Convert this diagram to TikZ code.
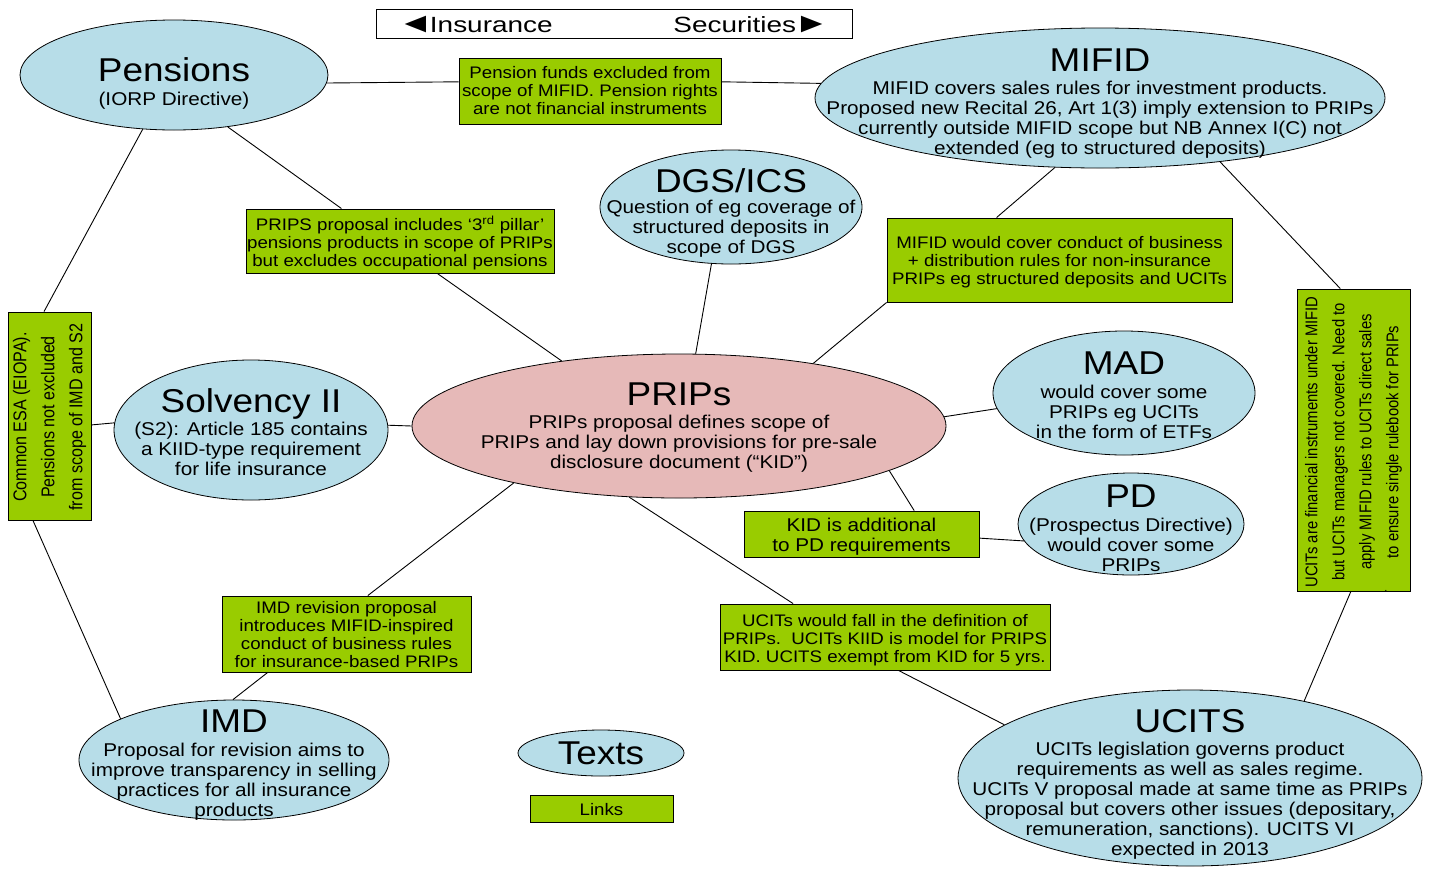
\documentclass[tikz,border=0pt]{standalone}
\usepackage{fontspec}
\setmainfont{Liberation Sans}[FakeStretch=1.12]
\newfontfamily\hdrfont{Liberation Sans}[FakeStretch=1.27]
\newfontfamily\narrowfont{Liberation Sans}[FakeStretch=0.87]
\usetikzlibrary{shapes.geometric}
\definecolor{ellblue}{RGB}{183,221,232}
\definecolor{ellpink}{RGB}{230,185,184}
\definecolor{boxgreen}{RGB}{153,204,0}
\newcommand\ttl[1]{{\fontsize{33}{36}\selectfont #1}}
\newcommand\tri[1]{{\fontsize{28}{24}\selectfont #1}}
\tikzset{
  ell/.style 2 args={ellipse, draw, fill=ellblue, line width=0.8pt, inner sep=0pt, minimum width=#1, minimum height=#2},
  gbox/.style 2 args={rectangle, draw, fill=boxgreen, line width=0.9pt, inner sep=0pt, minimum width=#1, minimum height=#2},
  eltxt/.style={align=center, inner sep=0pt, font=\fontsize{18.5}{20}\selectfont},
  bxtxt/.style={align=center, inner sep=0pt, yshift=-2pt, font=\fontsize{16.7}{18}\selectfont},
  rottxt/.style={align=center, inner sep=0pt, rotate=90},
  hdrtxt/.style={inner sep=0pt, font=\hdrfont\fontsize{22}{24}\selectfont},
  conn/.style={line width=0.9pt},
}
\begin{document}
\begin{tikzpicture}[x=1pt,y=-1pt]
\useasboundingbox (0,0) rectangle (1431,876);

% header
\node[rectangle, draw, fill=white, line width=0.9pt, minimum width=476pt, minimum height=29pt, inner sep=0pt,
  label={[hdrtxt,anchor=west,xshift=22pt,yshift=-1pt]west:\tri{◄}\kern-3pt Insurance},
  label={[hdrtxt,anchor=east,xshift=-23pt,yshift=-1pt]east:Securities\kern-2pt\tri{►}}] (hdr) at (614,23.5) {};

% ellipses
\node[ell={308pt}{110pt}, label={[eltxt,yshift=-8pt]center:{\ttl{Pensions}\\[4pt](IORP Directive)}}] (pens) at (174,75) {};
\node[ell={570pt}{140pt}, label={[eltxt,yshift=-6pt]center:{\ttl{MIFID}\\[3pt]MIFID covers sales rules for investment products.\\Proposed new Recital 26, Art 1(3) imply extension to PRIPs\\currently outside MIFID scope but NB Annex I(C) not\\extended (eg to structured deposits)}}] (mifid) at (1100,98) {};
\node[ell={262pt}{114pt}, label={[eltxt,yshift=-6pt]center:{\ttl{DGS/ICS}\\[1pt]Question of eg coverage of\\structured deposits in\\scope of DGS}}] (dgs) at (731,207) {};
\node[ell={534pt}{144pt}, fill=ellpink, label={[eltxt,yshift=-2pt]center:{\ttl{PRIPs}\\[3pt]PRIPs proposal defines scope of\\PRIPs and lay down provisions for pre-sale\\disclosure document (“KID”)}}] (prips) at (679,426) {};
\node[ell={274pt}{140pt}, label={[eltxt,yshift=-2pt]center:{\ttl{Solvency II}\\[2pt](S2): Article 185 contains\\a KIID-type requirement\\for life insurance}}] (solv) at (251,430) {};
\node[ell={262pt}{124pt}, label={[eltxt,yshift=-2pt]center:{\ttl{MAD}\\[4pt]would cover some\\PRIPs eg UCITs\\in the form of ETFs}}] (mad) at (1124,393) {};
\node[ell={226pt}{102pt}, label={[eltxt,yshift=-4pt]center:{\ttl{PD}\\[4pt](Prospectus Directive)\\would cover some\\PRIPs}}] (pd) at (1131,524) {};
\node[ell={310pt}{120pt}, label={[eltxt,yshift=-5pt]center:{\ttl{IMD}\\[4pt]Proposal for revision aims to\\improve transparency in selling\\practices for all insurance\\products}}] (imd) at (234,760) {};
\node[ell={166pt}{46pt}, label={[eltxt]center:{\ttl{Texts}}}] (texts) at (601,753) {};
\node[ell={464pt}{176pt}, label={[eltxt,yshift=-6pt]center:{\ttl{UCITS}\\[3pt]UCITs legislation governs product\\requirements as well as sales regime.\\UCITs V proposal made at same time as PRIPs\\proposal but covers other issues (depositary,\\remuneration, sanctions). UCITS VI\\expected in 2013}}] (ucits) at (1190,778) {};

% green boxes
\node[gbox={262pt}{66pt}, label={[bxtxt,yshift=2pt]center:{Pension funds excluded from\\scope of MIFID. Pension rights\\are not financial instruments}}] (b1) at (590,91) {};
\node[gbox={308pt}{64pt}, label={[bxtxt]center:{PRIPS proposal includes ‘3\textsuperscript{rd} pillar’\\pensions products in scope of PRIPs\\but excludes occupational pensions}}] (b2) at (400,241) {};
\node[gbox={345pt}{84pt}, label={[bxtxt]center:{MIFID would cover conduct of business\\+ distribution rules for non-insurance\\PRIPs eg structured deposits and UCITs}}] (b3) at (1059.5,260) {};
\node[gbox={83pt}{208pt}, label={[rottxt,xshift=-1pt,font=\narrowfont\fontsize{18.5}{28}\selectfont]center:{Common ESA (EIOPA).\\Pensions not excluded\\from scope of IMD and S2}}] (bl) at (49.5,416) {};
\node[gbox={113pt}{302pt}, label={[rottxt,xshift=-2pt,font=\narrowfont\fontsize{17}{27}\selectfont]center:{UCITs are financial instruments under MIFID\\but UCITs managers not covered. Need to\\apply MIFID rules to UCITs direct sales\\to ensure single rulebook for PRIPs}}] (br) at (1353.5,440) {};
\node[gbox={235pt}{46pt}, label={[eltxt,yshift=-3pt]center:{KID is additional\\to PD requirements}}] (bk) at (861.5,534) {};
\node[gbox={249pt}{76pt}, label={[bxtxt,yshift=1pt]center:{IMD revision proposal\\introduces MIFID-inspired\\conduct of business rules\\for insurance-based PRIPs}}] (bi) at (346.5,634) {};
\node[gbox={330pt}{66pt}, label={[bxtxt,yshift=-1pt]center:{UCITs would fall in the definition of\\PRIPs.\ \ UCITs KIID is model for PRIPS\\KID. UCITS exempt from KID for 5 yrs.}}] (bu) at (885,637) {};
\node[gbox={143pt}{27pt}, label={[bxtxt,yshift=1pt]center:{Links}}] (blinks) at (601.5,808.5) {};
\node[inner sep=0pt, font=\fontsize{10}{10}\selectfont] (dot) at (1386,591) {.};

% connectors
\draw[conn] (pens.-3.7) -- (b1.176);
\draw[conn] (b1.4) -- (mifid.177.4);
\draw[conn] (pens.-44) -- (b2.151.9);
\draw[conn] (b2.-41.6) -- (prips.151.3);
\draw[conn] (pens.-120.4) -- (bl.93);
\draw[conn] (bl.-99) -- (imd.160.6);
\draw[conn] (bl.-12.2) -- (solv.177.9);
\draw[conn] (solv.2) -- (prips.180);
\draw[conn] (dgs.-109.9) -- (prips.77.4);
\draw[conn] (mifid.-123) -- (b3.146.9);
\draw[conn] (b3.south west) -- (prips.25.9);
\draw[conn] (mifid.-28.1) -- (br.95.9);
\draw[conn] (br.-91.3) -- (ucits.34.6);
\draw[conn] (prips.2.4) -- (mad.-173.8);
\draw[conn] (prips.-12.7) -- (bk.24.5);
\draw[conn] (bk.-2.9) -- (pd.-171.9);
\draw[conn] (prips.-161.6) -- (bi.61.7);
\draw[conn] (bi.-154.2) -- (imd.91);
\draw[conn] (prips.-125.4) -- (bu.160.3);
\draw[conn] (bu.-68.5) -- (ucits.164.6);
\end{tikzpicture}
\end{document}
